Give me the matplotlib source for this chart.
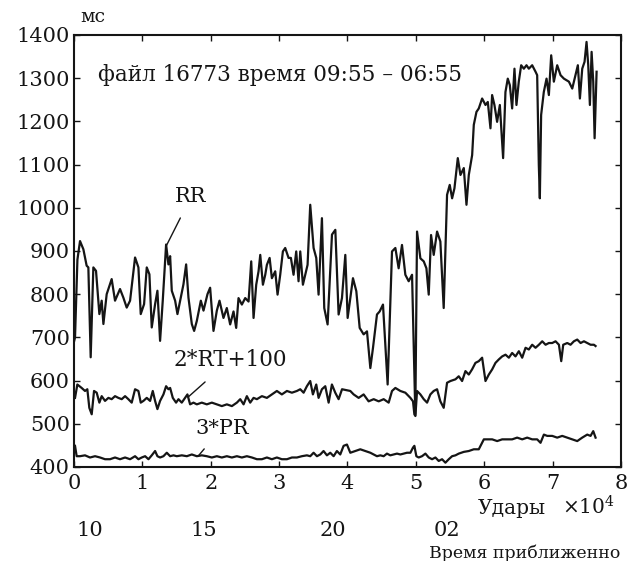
import matplotlib
matplotlib.use("Agg")
import matplotlib.pyplot as plt
import matplotlib.transforms as mtransforms

plt.rcParams['font.family'] = ['DejaVu Serif']
plt.rcParams['mathtext.fontset'] = 'dejavuserif'

# beat number (x 10^4) and interval values, ms
rr_x = [0.0, 0.015, 0.05, 0.088, 0.137, 0.185, 0.21, 0.244, 0.283, 0.322, 0.371, 0.405, 0.43, 0.478,
        0.551, 0.6, 0.673, 0.722, 0.771, 0.82, 0.893, 0.942, 0.976, 1.025, 1.064, 1.103, 1.137, 1.186,
        1.22, 1.259, 1.298, 1.347, 1.381, 1.406, 1.43, 1.479, 1.513, 1.552, 1.601, 1.64, 1.674, 1.723,
        1.757, 1.796, 1.855, 1.894, 1.952, 1.991, 2.04, 2.089, 2.128,
        2.186, 2.235, 2.284, 2.333, 2.372, 2.406, 2.455, 2.504, 2.553, 2.592, 2.626, 2.665, 2.699,
        2.724, 2.763, 2.797, 2.821, 2.861, 2.894, 2.943, 2.977, 3.016, 3.055, 3.089, 3.138, 3.172,
        3.211, 3.25, 3.284, 3.309, 3.348, 3.382, 3.416,
        3.455, 3.504, 3.543, 3.577, 3.626, 3.66, 3.709, 3.773, 3.822, 3.87, 3.919, 3.968, 4.002,
        4.041, 4.08, 4.129, 4.178, 4.236, 4.285, 4.334, 4.373, 4.431, 4.47, 4.519, 4.587, 4.651,
        4.7, 4.748, 4.797, 4.846, 4.895, 4.944, 4.992,
        5.017, 5.066, 5.115, 5.154, 5.188, 5.222, 5.261, 5.31, 5.358, 5.407, 5.456, 5.495, 5.53,
        5.564, 5.613, 5.652, 5.701, 5.74, 5.774, 5.823, 5.847, 5.886, 5.92, 5.969, 6.018, 6.052,
        6.091, 6.115, 6.149, 6.188, 6.228, 6.276, 6.31, 6.344,
        6.374, 6.408, 6.442, 6.471, 6.505, 6.54, 6.579, 6.618, 6.652, 6.701, 6.75, 6.774, 6.798,
        6.813, 6.832, 6.871, 6.911, 6.945, 6.979, 7.018, 7.067, 7.116, 7.165, 7.238, 7.287, 7.335,
        7.369, 7.399, 7.433, 7.467, 7.496, 7.521, 7.545, 7.57, 7.594, 7.614, 7.643]
rr_y = [690, 700, 880, 923, 904, 866, 862, 654, 862, 854, 754, 785, 731, 800,
        835, 785, 812, 792, 769, 785, 885, 862, 754, 777, 862, 846, 723, 777,
        808, 692, 785, 915, 869, 888, 808, 785, 754, 785, 823, 869, 792, 731,
        715, 738, 785, 762, 800, 815, 715, 762, 785,
        745, 768, 730, 760, 722, 791, 776, 791, 783, 876, 745, 822, 853,
        891, 822, 845, 868, 884, 837, 853, 799, 845, 899, 907, 884, 884,
        845, 899, 830, 899, 822, 845, 868,
        1007, 907, 884, 799, 976, 768, 730, 938, 949, 753, 791, 891, 745,
        791, 837, 807, 722, 707, 714, 629, 676, 753, 760, 776, 591, 899,
        907, 860, 914, 845, 830, 845, 522,
        945, 883, 876, 860, 799, 937, 891, 945, 922, 768, 1030, 1053, 1022,
        1045, 1115, 1076, 1092, 1007, 1076, 1122, 1192, 1222, 1230, 1253, 1238, 1245,
        1184, 1261, 1238, 1199, 1238, 1115, 1268, 1299,
        1284, 1230, 1322, 1238, 1292, 1330, 1322, 1330, 1322, 1330, 1315, 1307, 1099,
        1022, 1215, 1268, 1299, 1261, 1353, 1292, 1330, 1307, 1299, 1292, 1276, 1307,
        1330, 1253, 1322, 1338, 1384, 1330, 1238, 1361, 1292, 1161, 1315]

rt_x = [0.015, 0.049, 0.112, 0.161, 0.195, 0.224, 0.259, 0.293, 0.332, 0.371, 0.405, 0.454, 0.503,
        0.551, 0.6, 0.649, 0.698, 0.747, 0.795, 0.844, 0.893, 0.942, 0.976, 1.015, 1.064, 1.113,
        1.152, 1.186, 1.22, 1.259, 1.308, 1.347, 1.381, 1.406, 1.445, 1.493, 1.528, 1.576, 1.625,
        1.659, 1.698, 1.747, 1.796, 1.869, 1.942, 2.016, 2.089, 2.162, 2.235, 2.309, 2.382, 2.431,
        2.48, 2.528, 2.577, 2.626, 2.675, 2.748, 2.821, 2.894, 2.967, 3.04, 3.114, 3.187, 3.26,
        3.309, 3.358, 3.406, 3.455, 3.494, 3.543, 3.577, 3.626, 3.675, 3.724, 3.772, 3.821, 3.87,
        3.92, 4.041, 4.09, 4.163, 4.236, 4.309, 4.383, 4.456, 4.529, 4.602, 4.651, 4.7, 4.773,
        4.846, 4.92, 4.958, 4.978, 4.993, 5.017, 5.066, 5.115, 5.164, 5.212, 5.261, 5.31, 5.358,
        5.407, 5.456, 5.505, 5.579, 5.627, 5.676, 5.725, 5.774, 5.822, 5.871, 5.92, 5.969, 5.994,
        6.018, 6.067, 6.116, 6.164, 6.213, 6.262, 6.311, 6.36, 6.408, 6.457, 6.506, 6.555, 6.604,
        6.652, 6.701, 6.75, 6.799, 6.848, 6.897, 6.945, 6.994, 7.043, 7.092, 7.126, 7.155, 7.214,
        7.262, 7.311, 7.36, 7.409, 7.458, 7.506, 7.555, 7.604, 7.628]
rt_y = [560, 591, 583, 576, 580, 537, 522, 576, 572, 549, 564, 553, 560,
        557, 564, 560, 557, 564, 557, 549, 580, 576, 549, 553, 560, 553,
        576, 553, 534, 553, 568, 587, 580, 583, 560, 549, 557, 549, 560,
        568, 545, 549, 545, 549, 545, 549, 545, 541, 545, 541, 549, 557,
        545, 564, 549, 560, 557, 564, 560, 568, 576, 568, 576, 572, 576,
        580, 572, 587, 599, 568, 591, 560, 580, 587, 549, 591, 572, 557,
        580, 576, 568, 560, 568, 552, 557, 552, 557, 549, 576, 583, 576,
        572, 560, 552, 522, 518, 576, 568, 557, 549, 568, 576, 580, 552,
        537, 595, 599, 603, 610, 599, 622, 614, 626, 641, 645, 653, 626,
        599, 614, 626, 641, 649, 656, 660, 653, 664, 656, 668, 653, 676,
        672, 683, 676, 683, 691, 683, 687, 687, 691, 683, 645, 683, 687,
        683, 691, 695, 687, 691, 687, 683, 683, 680]

pr_x = [0.015, 0.039, 0.088, 0.161, 0.234, 0.308, 0.381, 0.454, 0.527, 0.6, 0.673, 0.747, 0.82,
        0.893, 0.942, 0.991, 1.04, 1.089, 1.137, 1.186, 1.22, 1.259, 1.308, 1.357, 1.406, 1.455,
        1.503, 1.577, 1.65, 1.723, 1.796, 1.869, 1.942, 2.016, 2.089, 2.162, 2.235, 2.309, 2.382,
        2.455, 2.528, 2.602, 2.675, 2.748, 2.821, 2.894, 2.967, 3.04, 3.114, 3.187, 3.26, 3.333,
        3.406, 3.455, 3.504, 3.553, 3.602, 3.65, 3.699, 3.748, 3.797, 3.845, 3.894, 3.943, 3.992,
        4.041, 4.114, 4.187, 4.26, 4.334, 4.383, 4.431, 4.48, 4.529, 4.577, 4.626, 4.675, 4.724,
        4.773, 4.822, 4.87, 4.92, 4.958, 4.978, 5.007, 5.041, 5.09, 5.139, 5.188, 5.237, 5.286,
        5.334, 5.383, 5.432, 5.481, 5.53, 5.579, 5.627, 5.701, 5.774, 5.847, 5.92, 5.994, 6.042,
        6.116, 6.189, 6.262, 6.335, 6.408, 6.481, 6.555, 6.628, 6.701, 6.774, 6.823, 6.872, 6.921,
        6.994, 7.067, 7.14, 7.214, 7.287, 7.36, 7.433, 7.506, 7.555, 7.594, 7.628]
pr_y = [449, 425, 425, 427, 422, 425, 422, 418, 418, 422, 418, 422, 418,
        425, 418, 422, 425, 418, 427, 437, 425, 422, 425, 433, 425, 427,
        425, 427, 425, 429, 425, 427, 425, 422, 425, 422, 425, 422, 425,
        422, 425, 422, 418, 418, 422, 418, 422, 418, 418, 422, 422, 425,
        427, 425, 433, 425, 429, 437, 427, 433, 425, 437, 429, 449, 452,
        433, 437, 441, 437, 433, 429, 425, 427, 425, 431, 427, 429, 431,
        429, 431, 433, 433, 445, 449, 425, 422, 425, 431, 422, 418, 422,
        414, 418, 410, 418, 425, 427, 431, 435, 437, 441, 441, 464, 464,
        464, 460, 464, 464, 464, 468, 464, 468, 464, 464, 456, 475, 472,
        472, 468, 472, 468, 464, 460, 468, 475, 472, 483, 468]

y_ticks = [400, 500, 600, 700, 800, 900, 1000, 1100, 1200, 1300, 1400]
x_ticks = [0, 1, 2, 3, 4, 5, 6, 7, 8]
clock_labels = ['10', '15', '20', '02']
clock_beats = [0.23, 1.9, 3.79, 5.45]

W, H = 634, 561
INK = '#151515'
fig = plt.figure(figsize=(W / 100, H / 100), dpi=100)
ax = fig.add_axes([74 / W, 1 - 467 / H, (621 - 74) / W, (467 - 35) / H])

line_kw = dict(color=INK, lw=1.6, solid_joinstyle='round')
ax.plot(rr_x, rr_y, **line_kw)
ax.plot(rt_x, rt_y, **line_kw)
ax.plot(pr_x, pr_y, **line_kw)

ax.set_xlim(0, 8)
ax.set_ylim(400, 1400)
ax.set_xticks(x_ticks)
ax.set_yticks(y_ticks)
ax.tick_params(direction='in', length=4, width=1, top=True, right=True,
               labelsize=15, colors=INK)
ax.tick_params(axis='x', pad=5)
ax.tick_params(axis='y', pad=3)
for s in ax.spines.values():
    s.set_linewidth(1.5)
    s.set_color(INK)

txt = dict(color=INK)
ax.text(0.35, 1308, 'файл 16773 время 09:55 – 06:55', fontsize=15.5, va='center', ha='left', **txt)

ax.annotate('RR', xy=(1.35, 912), xytext=(1.71, 1025), fontsize=15, ha='center', va='center',
            arrowprops=dict(arrowstyle='-', color=INK, lw=1, shrinkA=7, shrinkB=0), **txt)
ax.annotate('2*RT+100', xy=(1.67, 562), xytext=(2.28, 648), fontsize=15.5, ha='center', va='center',
            arrowprops=dict(arrowstyle='-', color=INK, lw=1, shrinkA=9, shrinkB=0), **txt)
ax.annotate('3*PR', xy=(1.82, 426), xytext=(2.16, 490), fontsize=15, ha='center', va='center',
            arrowprops=dict(arrowstyle='-', color=INK, lw=1, shrinkA=8, shrinkB=0), **txt)

fig.text(93 / W, 1 - 17 / H, 'мс', fontsize=13.5, ha='center', va='center', **txt)
fig.text(512 / W, 1 - 509 / H, 'Удары', fontsize=14.5, ha='center', va='center', **txt)
fig.text(588 / W, 1 - 507 / H, r'$\times10^4$', fontsize=14.5, ha='center', va='center', **txt)

trans = mtransforms.blended_transform_factory(ax.transData, fig.transFigure)
for lab, xb in zip(clock_labels, clock_beats):
    ax.text(xb, 1 - 530 / H, lab, transform=trans, fontsize=15, ha='center', va='center', **txt)

fig.text(620 / W, 1 - 553 / H, 'Время приближенно', fontsize=12.5, ha='right', va='center', **txt)

fig.savefig('out.png', dpi=100, facecolor='white')
